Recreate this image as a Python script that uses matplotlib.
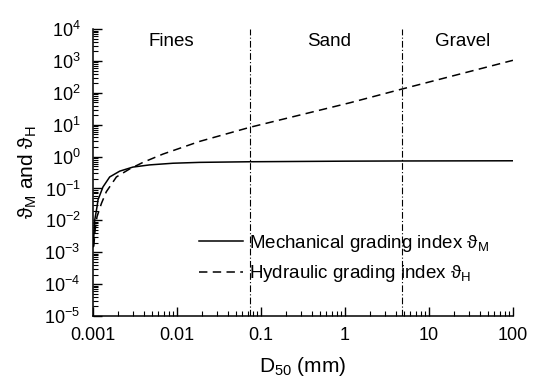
import numpy as np
import matplotlib
matplotlib.use("Agg")
import matplotlib.pyplot as plt
from matplotlib.ticker import LogLocator, FixedLocator, FixedFormatter, NullFormatter

plt.rcParams["font.family"] = ["Liberation Sans", "DejaVu Sans"]
plt.rcParams["mathtext.fontset"] = "custom"
plt.rcParams["mathtext.rm"] = "Liberation Sans"
plt.rcParams["mathtext.it"] = "Liberation Sans:italic"

# Mechanical grading index vs median grain size
d_mech = [0.001005, 0.001028, 0.001047, 0.00112, 0.001147, 0.001315, 0.00158,
          0.00208, 0.00299, 0.00473, 0.00897, 0.0186, 0.0737, 1.0, 4.5, 100.0]
theta_m = [0.0015, 0.004, 0.01, 0.028, 0.044, 0.112, 0.23,
           0.35, 0.47, 0.55, 0.62, 0.66, 0.69, 0.72, 0.73, 0.74]

# Hydraulic grading index vs median grain size
d_hyd = [0.00102, 0.00106, 0.001116, 0.00126, 0.00144, 0.0019, 0.00273,
         0.00394, 0.0068, 0.0186, 0.0737, 1.15, 4.52, 100.0]
theta_h = [0.0015, 0.005, 0.013, 0.034, 0.079, 0.23, 0.41,
           0.66, 1.2, 3.0, 8.3, 49.0, 127.0, 1050.0]

# Class boundaries (mm) and class names
boundaries = [0.075, 4.75]
classes = ["Fines", "Sand", "Gravel"]
class_x = [0.0086, 0.645, 25.4]

xtick_vals = [0.001, 0.01, 0.1, 1, 10, 100]
xtick_labels = ["0.001", "0.01", "0.1", "1", "10", "100"]

fig = plt.figure(figsize=(5.36, 3.81), dpi=100)
ax = fig.add_axes([0.1735, 0.1706, 0.7835, 0.753])

ax.plot(d_mech, theta_m, color="black", linewidth=1.1,
        label=r"Mechanical grading index $\mathregular{\vartheta_M}$")
ax.plot(d_hyd, theta_h, color="black", linewidth=1.1, linestyle=(0, (5.5, 3.5)),
        label=r"Hydraulic grading index $\mathregular{\vartheta_H}$")

for b in boundaries:
    ax.axvline(b, color="black", linewidth=0.8, linestyle=(0, (6, 2, 1, 2)))

for name, xc in zip(classes, class_x):
    ax.text(xc, 0.94, name, ha="center", va="baseline", fontsize=13.5,
            transform=ax.get_xaxis_transform())

ax.set_xscale("log")
ax.set_yscale("log")
ax.set_xlim(0.001, 100)
ax.set_ylim(1e-5, 1e4)

ax.xaxis.set_major_locator(FixedLocator(xtick_vals))
ax.xaxis.set_major_formatter(FixedFormatter(xtick_labels))
ax.xaxis.set_minor_locator(LogLocator(base=10, subs=np.arange(2, 10)))
ax.xaxis.set_minor_formatter(NullFormatter())
ax.yaxis.set_major_locator(LogLocator(base=10, numticks=20))
ax.yaxis.set_minor_locator(LogLocator(base=10, subs=np.arange(2, 10), numticks=20))
ax.yaxis.set_minor_formatter(NullFormatter())

ax.tick_params(which="both", direction="in", top=False, right=False, labelsize=13)
ax.tick_params(which="major", length=6.5, width=1)
ax.tick_params(which="minor", length=3.5, width=0.8)
ax.tick_params(axis="x", pad=8)
ax.tick_params(axis="y", pad=9)

for side in ["top", "right"]:
    ax.spines[side].set_visible(False)
for side in ["left", "bottom"]:
    ax.spines[side].set_linewidth(1.1)

ax.set_xlabel(r"D$\mathregular{_{50}}$ (mm)", fontsize=15, labelpad=8)
ax.set_ylabel(r"$\mathregular{\vartheta_M}$ and $\mathregular{\vartheta_H}$", fontsize=15, labelpad=4)

ax.legend(loc="upper left", bbox_to_anchor=(0.252, 0.29), frameon=False, fontsize=13.5,
          borderaxespad=0, borderpad=0, handlelength=2.35, handletextpad=0.32,
          labelspacing=0.5)

plt.savefig("out.png", dpi=100)
plt.close()
